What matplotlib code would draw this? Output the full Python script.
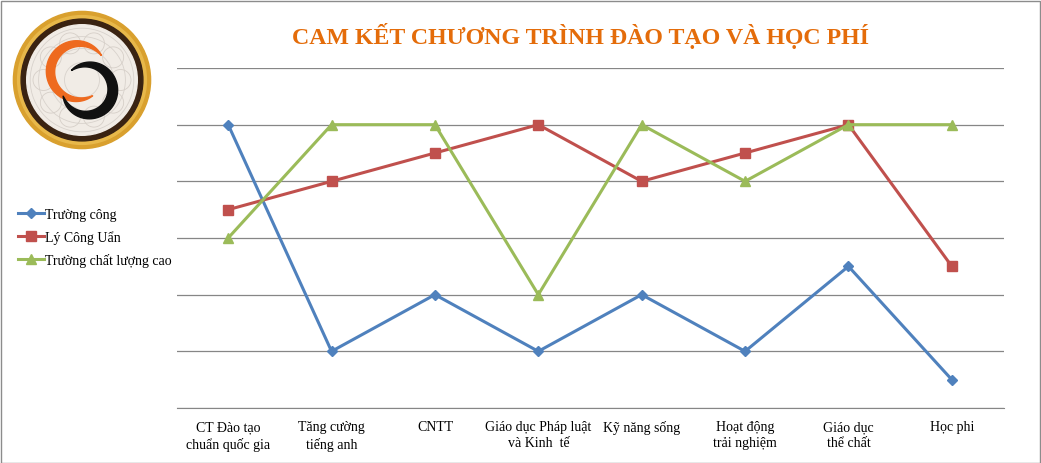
import numpy as np
import matplotlib
matplotlib.use("Agg")
import matplotlib.pyplot as plt
from matplotlib.patches import Circle, Polygon, Rectangle

categories = ["CT Đào tạo\nchuẩn quốc gia", "Tăng cường\ntiếng anh", "CNTT",
              "Giáo dục Pháp luật\nvà Kinh  tế", "Kỹ năng sống", "Hoạt động\ntrải nghiệm",
              "Giáo dục\nthể chất", "Học phi"]
truong_cong = [5, 1, 2, 1, 2, 1, 2.5, 0.5]
ly_cong_uan = [3.5, 4, 4.5, 5, 4, 4.5, 5, 2.5]
chat_luong_cao = [3, 5, 5, 2, 5, 4, 5, 5]
series_names = ["Trường công", "Lý Công Uẩn", "Trường chất lượng cao"]
title = "CAM KẾT CHƯƠNG TRÌNH ĐÀO TẠO VÀ HỌC PHÍ"

W, H = 1041, 464
fig = plt.figure(figsize=(W / 100, H / 100), dpi=100)
fig.patch.set_facecolor("white")
serif = ["Liberation Serif", "DejaVu Serif"]

# outer border
fig.add_artist(Rectangle((0.5 / W, 0.5 / H), (W - 2) / W, (H - 2) / H, transform=fig.transFigure,
                         fill=False, edgecolor="#8c8c8c", linewidth=1.0))

# main axes
left_px, right_px = 176.5, 1003.5
top_px, bot_px = 69, 409
ax = fig.add_axes([left_px / W, (H - bot_px) / H, (right_px - left_px) / W, (bot_px - top_px) / H])
x = np.arange(len(categories))
ax.set_xlim(-0.5, len(categories) - 0.5)
ax.set_ylim(0, 6)
ax.set_yticks(np.arange(0, 7))
ax.yaxis.grid(True, color="#868686", linewidth=0.9)
ax.set_axisbelow(True)
for s in ["left", "right", "top"]:
    ax.spines[s].set_visible(False)
ax.spines["bottom"].set_color("#868686")
ax.tick_params(axis="y", length=0, labelleft=False)
ax.tick_params(axis="x", length=0, pad=9)
ax.set_xticks(x)
ax.set_xticklabels(categories, fontsize=10, family=serif, va="top", linespacing=1.3)

styles = [("#4F81BD", "D", 5.5), ("#C0504D", "s", 6.5), ("#9BBB59", "^", 7)]
lines = []
for vals, name, (c, m, ms) in zip([truong_cong, ly_cong_uan, chat_luong_cao], series_names, styles):
    l, = ax.plot(x, vals, color=c, marker=m, markersize=ms, linewidth=2.2, label=name,
                 markeredgecolor=c, clip_on=False)
    lines.append(l)

fig.legend(handles=lines, labels=series_names, loc="upper left",
           bbox_to_anchor=(18 / W, 1 - 209 / H), frameon=False,
           prop={"family": serif, "size": 10}, handlelength=1.85, handletextpad=0.1,
           labelspacing=0.66, borderaxespad=0, borderpad=0)

fig.text(581 / W, 1 - 36 / H, title, ha="center", va="center", color="#E46C0A",
         fontsize=17.2, fontweight="bold", family=serif)

# logo
cx, cy, R = 82, 81, 70
lax = fig.add_axes([(cx - R) / W, (H - cy - R) / H, 2 * R / W, 2 * R / H])
lax.set_xlim(-1, 1)
lax.set_ylim(-1, 1)
lax.axis("off")
lax.add_patch(Circle((0, 0), 0.98, color="#D9A02E"))
lax.add_patch(Circle((0, 0), 0.92, color="#E8B84A"))
lax.add_patch(Circle((0, 0), 0.87, color="#3A2312"))
lax.add_patch(Circle((0, 0), 0.79, color="#F1ECE6"))
for r in [0.25, 0.45, 0.62, 0.74]:
    lax.add_patch(Circle((0, 0), r, fill=False, edgecolor="#D8D2CC", linewidth=0.6))
for a in np.linspace(0, 2 * np.pi, 10, endpoint=False):
    lax.add_patch(Circle((0.55 * np.cos(a), 0.55 * np.sin(a)), 0.15, fill=False,
                         edgecolor="#D6CFC8", linewidth=0.6))


def tapered_arc(ccx, ccy, r, t1, t2, wmax, n=80):
    t = np.linspace(0, 1, n)
    th = np.radians(t1 + (t2 - t1) * t)
    w = wmax * np.sin(np.pi * t) ** 0.8
    outer = np.c_[ccx + (r + w / 2) * np.cos(th), ccy + (r + w / 2) * np.sin(th)]
    inner = np.c_[ccx + (r - w / 2) * np.cos(th), ccy + (r - w / 2) * np.sin(th)]
    return np.vstack([outer, inner[::-1]])


lax.add_patch(Polygon(tapered_arc(-0.05, 0.12, 0.40, 35, 300, 0.12), color="#EE6A1F"))
lax.add_patch(Polygon(tapered_arc(0.08, -0.14, 0.36, 130, -165, 0.14), color="#111111"))

fig.savefig("out.png", dpi=100, facecolor="white")
